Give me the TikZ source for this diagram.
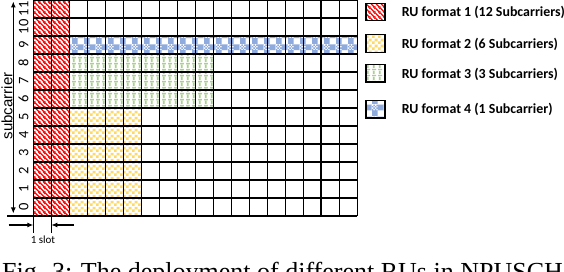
\documentclass[tikz,border=0pt]{standalone}
\usepackage{fontspec}
\setmainfont{Liberation Serif}
\newfontfamily\calfont{Carlito}
\newfontfamily\arialfont{Liberation Sans}
\usetikzlibrary{arrows.meta,patterns}
\definecolor{rured}{HTML}{FF0000}
\definecolor{ruyellow}{HTML}{FFD966}
\definecolor{rugreen}{HTML}{A9D18E}
\definecolor{rublue}{HTML}{8FAADC}

\pgfdeclarepatterninherentlycolored{rustripe}{\pgfpointorigin}{\pgfpoint{5pt}{5pt}}{\pgfpoint{5pt}{5pt}}{
  \pgfsetfillcolor{white}\pgfpathrectangle{\pgfpointorigin}{\pgfpoint{5pt}{5pt}}\pgfusepath{fill}
  \pgfsetstrokecolor{rured}\pgfsetlinewidth{1.4pt}
  \pgfpathmoveto{\pgfpoint{-1pt}{6pt}}\pgfpathlineto{\pgfpoint{6pt}{-1pt}}
  \pgfpathmoveto{\pgfpoint{-1pt}{1pt}}\pgfpathlineto{\pgfpoint{1pt}{-1pt}}
  \pgfpathmoveto{\pgfpoint{4pt}{6pt}}\pgfpathlineto{\pgfpoint{6pt}{4pt}}
  \pgfusepath{stroke}
}
\pgfdeclarepatterninherentlycolored{rucheck}{\pgfpointorigin}{\pgfpoint{6pt}{6pt}}{\pgfpoint{6pt}{6pt}}{
  \pgfsetfillcolor{white}\pgfpathrectangle{\pgfpointorigin}{\pgfpoint{6pt}{6pt}}\pgfusepath{fill}
  \pgfsetfillcolor{ruyellow}
  \pgfpathrectangle{\pgfpointorigin}{\pgfpoint{3pt}{3pt}}
  \pgfpathrectangle{\pgfpoint{3pt}{3pt}}{\pgfpoint{3pt}{3pt}}
  \pgfusepath{fill}
}
\pgfdeclarepatterninherentlycolored{rugrid}{\pgfpointorigin}{\pgfpoint{6pt}{6pt}}{\pgfpoint{6pt}{6pt}}{
  \pgfsetfillcolor{white}\pgfpathrectangle{\pgfpointorigin}{\pgfpoint{6pt}{6pt}}\pgfusepath{fill}
  \pgfsetfillcolor{rugreen}
  \pgfpathrectangle{\pgfpoint{1pt}{0pt}}{\pgfpoint{2pt}{3.6pt}}
  \pgfpathrectangle{\pgfpoint{0pt}{4.2pt}}{\pgfpoint{4.5pt}{1.6pt}}
  \pgfusepath{fill}
}
\pgfdeclarepatterninherentlycolored{rubig}{\pgfpointorigin}{\pgfpoint{12pt}{12pt}}{\pgfpoint{12pt}{12pt}}{
  \pgfsetfillcolor{white}\pgfpathrectangle{\pgfpointorigin}{\pgfpoint{12pt}{12pt}}\pgfusepath{fill}
  \pgfsetfillcolor{rublue}
  \pgfpathrectangle{\pgfpointorigin}{\pgfpoint{6pt}{6pt}}
  \pgfpathrectangle{\pgfpoint{6pt}{6pt}}{\pgfpoint{6pt}{6pt}}
  \pgfpathrectangle{\pgfpoint{0pt}{6pt}}{\pgfpoint{1.5pt}{1.5pt}}
  \pgfpathrectangle{\pgfpoint{3pt}{6pt}}{\pgfpoint{1.5pt}{1.5pt}}
  \pgfpathrectangle{\pgfpoint{1.5pt}{7.5pt}}{\pgfpoint{1.5pt}{1.5pt}}
  \pgfpathrectangle{\pgfpoint{4.5pt}{7.5pt}}{\pgfpoint{1.5pt}{1.5pt}}
  \pgfpathrectangle{\pgfpoint{0pt}{9pt}}{\pgfpoint{1.5pt}{1.5pt}}
  \pgfpathrectangle{\pgfpoint{3pt}{9pt}}{\pgfpoint{1.5pt}{1.5pt}}
  \pgfpathrectangle{\pgfpoint{1.5pt}{10.5pt}}{\pgfpoint{1.5pt}{1.5pt}}
  \pgfpathrectangle{\pgfpoint{4.5pt}{10.5pt}}{\pgfpoint{1.5pt}{1.5pt}}
  \pgfusepath{fill}
}

\tikzset{
  gridline/.style={line width=1.1pt, black},
  thickline/.style={line width=2.3pt, black},
  axisarrow/.style={line width=1.1pt, {Latex[length=6pt,width=5pt]}-{Latex[length=6pt,width=5pt]}},
  slotarrow/.style={line width=1.1pt, -{Latex[length=6pt,width=5pt]}},
  digit/.style={rotate=90, anchor=base, inner sep=0pt, font=\calfont\fontsize{14.5}{16}\selectfont},
  legbox/.style={draw=black, line width=1.2pt, minimum width=19pt, minimum height=17.5pt, inner sep=0pt},
  legtext/.style={anchor=base west, inner sep=0pt, font=\calfont\bfseries\fontsize{13.9}{15}\selectfont},
}

\begin{document}
\begin{tikzpicture}[x=1pt, y=1pt]
\useasboundingbox (0,0) rectangle (564,272);
\fill[white] (0,0) rectangle (564,272);

\begin{scope}[shift={(33.3pt,56pt)}, x=18pt, y=18pt]
  \fill[pattern=rustripe] (0,0) rectangle (2,12);
  \fill[pattern=rucheck] (2,0) rectangle (6,6);
  \fill[pattern=rugrid] (2,6) rectangle (10,9);
  \fill[pattern=rubig] (2,9) rectangle (18,10);
  \draw[gridline, step=1] (0,0) grid (18,12);
  \draw[thickline] (16,0) -- (16,12);
\end{scope}

% axes
\coordinate (bl) at (7.3,56);
\coordinate (br) at (33.3,56);
\draw[gridline] (bl) -- (br);
\coordinate (vtop) at (13.3,270.5);
\coordinate (vbot) at (13.3,58.5);
\draw[axisarrow] (vbot) -- (vtop);
\node[rotate=90, anchor=base, inner sep=0pt, font=\arialfont\fontsize{15}{17}\selectfont] (sc) at (12.3,166) {subcarrier};

\foreach \r in {0,...,11}{
  \node[digit] (d\r) at (28.3,{56+18*\r+9}) {\r};
}

% slot marker
\coordinate (t1a) at (33.3,56);
\coordinate (t1b) at (33.3,39);
\coordinate (t2a) at (51.3,56);
\coordinate (t2b) at (51.3,39);
\draw[gridline] (t1a) -- (t1b);
\draw[gridline] (t2a) -- (t2b);
\coordinate (a1s) at (8.5,47);
\coordinate (a1e) at (33.3,47);
\coordinate (a2s) at (74,47);
\coordinate (a2e) at (51.3,47);
\draw[slotarrow] (a1s) -- (a1e);
\draw[slotarrow] (a2s) -- (a2e);
\node[inner sep=0pt, font=\calfont\fontsize{11}{13}\selectfont] (slot) at (43,32) {1 slot};

% legend
\node[legbox, pattern=rustripe] (l1) at (375.5,260) {};
\node[legbox, pattern=rucheck] (l2) at (375.5,228.5) {};
\node[legbox, pattern=rugrid] (l3) at (375.5,198.7) {};
\node[legbox, pattern=rubig] (l4) at (375.5,162.8) {};
\node[legtext] (t1) at (401.7,255.3) {RU format 1 (12 Subcarriers)};
\node[legtext] (t2) at (401.7,223.7) {RU format 2 (6 Subcarriers)};
\node[legtext] (t3) at (401.7,193.7) {RU format 3 (3 Subcarriers)};
\node[legtext] (t4) at (401.7,158.7) {RU format 4 (1 Subcarrier)};

% caption (cut by the lower edge)
\node[anchor=north west, inner sep=0pt, font=\fontsize{26}{30}\selectfont] (cap) at (2,10.5) {Fig. 3: The deployment of different RUs in NPUSCH.};
\end{tikzpicture}
\end{document}
